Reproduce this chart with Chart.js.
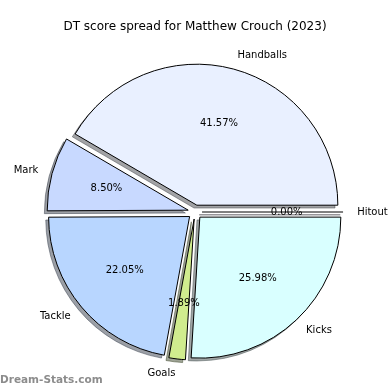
<!DOCTYPE html>
<html><head><meta charset="utf-8">
<script src="https://cdn.jsdelivr.net/npm/chart.js@4"></script>
<style>html,body{margin:0;padding:0;background:#fff;} #wrap{width:390px;height:390px;}</style>
</head><body><div id="wrap"><canvas id="c" width="390" height="390"></canvas></div>
<script>
const titleText = 'DT score spread for Matthew Crouch (2023)';
const categories = ['Hitout', 'Kicks', 'Goals', 'Tackle', 'Mark', 'Handballs'];
const percents = [0.00, 25.98, 1.89, 22.05, 8.50, 41.57];
const sliceColors = ['#f4e8ff', '#d9ffff', '#d0ec8e', '#b8d6ff', '#c8d9ff', '#e9f0ff'];
const watermark = 'Dream-Stats.com';

const RADIUS = 141, EXPLODE = 0.05, SHADOW = 0.02;
const FONT = '"DejaVu Sans", sans-serif';

function hexToRgb(h) {
  const n = parseInt(h.slice(1), 16);
  return [(n >> 16) & 255, (n >> 8) & 255, n & 255];
}

const pieExtras = {
  id: 'pieExtras',
  afterDatasetsUpdate(chart) {
    const meta = chart.getDatasetMeta(0);
    const ca = chart.chartArea;
    const cx = (ca.left + ca.right) / 2, cy = (ca.top + ca.bottom) / 2;
    meta.data.forEach(a => {
      const mid = (a.startAngle + a.endAngle) / 2;
      const d = EXPLODE * a.outerRadius;
      a.x = cx + Math.cos(mid) * d;
      a.y = cy + Math.sin(mid) * d;
    });
  },
  beforeDatasetsDraw(chart) {
    const ctx = chart.ctx;
    const meta = chart.getDatasetMeta(0);
    ctx.save();
    meta.data.forEach((a, i) => {
      const s = SHADOW * a.outerRadius;
      const [r, g, b] = hexToRgb(sliceColors[i]);
      const col = `rgba(${Math.round(0.3 * r)},${Math.round(0.3 * g)},${Math.round(0.3 * b)},0.5)`;
      ctx.beginPath();
      ctx.moveTo(a.x - s, a.y + s);
      ctx.arc(a.x - s, a.y + s, a.outerRadius, a.startAngle, a.endAngle);
      ctx.closePath();
      ctx.fillStyle = col;
      ctx.strokeStyle = col;
      ctx.lineWidth = 1;
      ctx.fill();
      ctx.stroke();
    });
    ctx.restore();
  },
  afterDatasetsDraw(chart) {
    const ctx = chart.ctx;
    const meta = chart.getDatasetMeta(0);
    ctx.save();
    meta.data.forEach(a => {
      if (a.endAngle - a.startAngle === 0) {
        ctx.beginPath();
        ctx.moveTo(a.x, a.y);
        ctx.lineTo(a.x + Math.cos(a.startAngle) * a.outerRadius, a.y + Math.sin(a.startAngle) * a.outerRadius);
        ctx.strokeStyle = '#000';
        ctx.lineWidth = 1;
        ctx.stroke();
      }
    });
    ctx.restore();
  },
  afterDraw(chart) {
    const ctx = chart.ctx;
    const meta = chart.getDatasetMeta(0);
    ctx.save();
    ctx.fillStyle = '#000';
    ctx.textBaseline = 'middle';
    ctx.font = '10px ' + FONT;
    meta.data.forEach((a, i) => {
      const mid = (a.startAngle + a.endAngle) / 2;
      const R = a.outerRadius;
      const lx = a.x + Math.cos(mid) * R * 1.1;
      const ly = a.y + Math.sin(mid) * R * 1.1;
      ctx.textAlign = Math.cos(mid) > 0 ? 'left' : 'right';
      ctx.fillText(categories[i], lx, ly);
      const px = a.x + Math.cos(mid) * R * 0.6;
      const py = a.y + Math.sin(mid) * R * 0.6;
      ctx.textAlign = 'center';
      ctx.fillText(percents[i].toFixed(2) + '%', px, py);
    });
    ctx.font = '12px ' + FONT;
    ctx.textAlign = 'center';
    ctx.fillText(titleText, 195, 27);
    ctx.font = 'bold 10.5px ' + FONT;
    ctx.textAlign = 'left';
    ctx.fillStyle = '#8c8c8c';
    ctx.fillText(watermark, 0, 380);
    ctx.restore();
  }
};

new Chart(document.getElementById('c'), {
  type: 'pie',
  data: {
    labels: categories,
    datasets: [{
      data: percents,
      backgroundColor: sliceColors,
      borderColor: '#000000',
      borderWidth: 1
    }]
  },
  options: {
    responsive: false,
    animation: false,
    rotation: 90,
    radius: RADIUS,
    layout: { padding: { top: 44, bottom: 10, left: 0, right: 0 } },
    plugins: { legend: { display: false }, title: { display: false }, tooltip: { enabled: false } }
  },
  plugins: [pieExtras]
});
</script>
</body></html>
